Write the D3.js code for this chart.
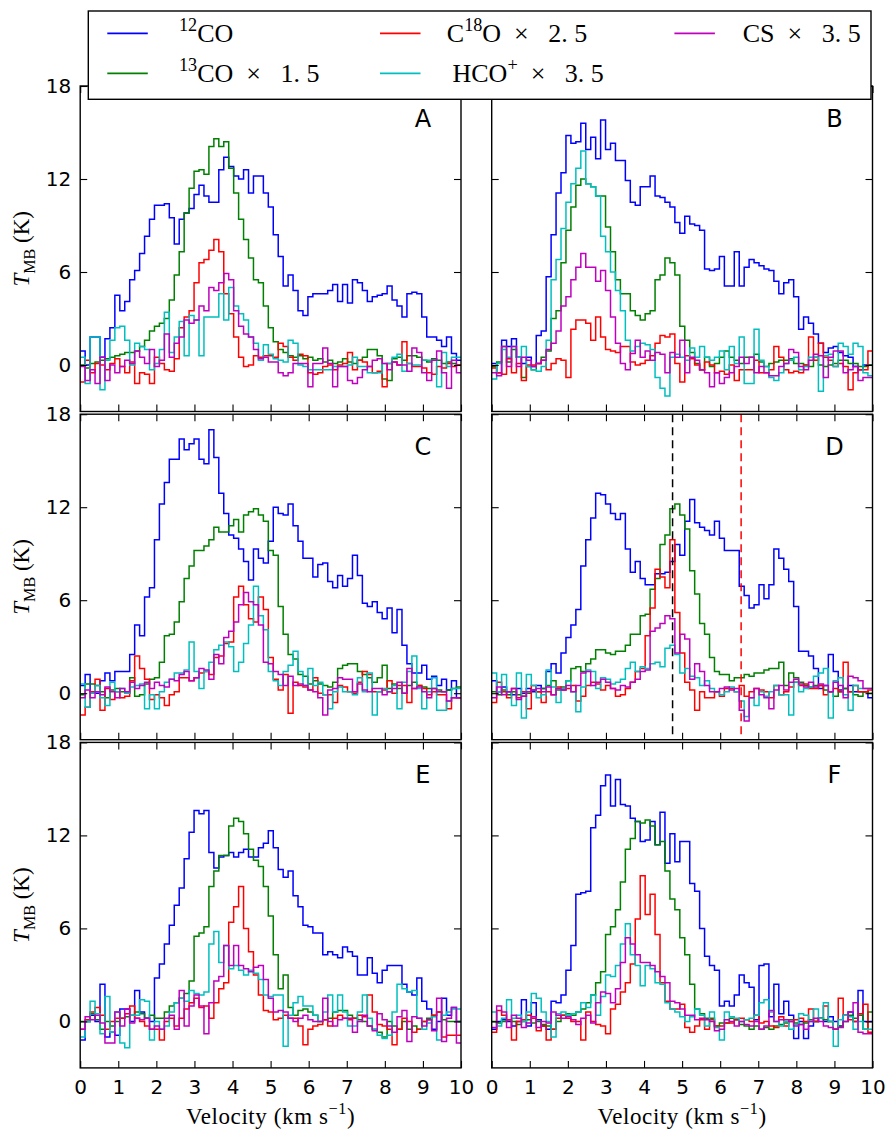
<!DOCTYPE html>
<html><head><meta charset="utf-8">
<script src="https://cdn.jsdelivr.net/npm/d3@7"></script>
<style>body{margin:0;background:#fff}svg{display:block}text{white-space:pre}</style>
</head><body>
<svg id="chart" width="888" height="1133"></svg>
<script>
// ---------------- data ----------------
const channelWidth = 0.13;           // km/s per channel
const velocityTicks = [0,1,2,3,4,5,6,7,8,9,10];
const temperatureTicks = [0,6,12,18];
const panelLabels = ["A","B","C","D","E","F"];
const seriesKeys = ["12CO","13CO","C18O","HCO","CS"];
const D_markerVelocities = [4.75, 6.55];

const A_12CO = [0.9,0,1.8,1.8,0.5,1.7,2.4,4.5,3.5,4.1, 5.5,6.1,7.2,8.3,9.4,10.3,10.3,10.4,9.5,7.8, 9.4,9.8,10.1,11.0,11.6,10.9,10.5,10.5,12.6,13.4, 12.8,12.2,12.0,12.6,11.1,12.2,12.2,11.1,10.2,8.4, 7.0,5.1,5.8,4.8,3.5,3.2,4.4,4.6,4.6,4.6, 4.8,5.2,4.1,5.2,4.0,5.5,5.3,4.8,4.1,4.4, 4.5,4.6,5.1,4.2,3.8,3.1,4.6,4.7,4.6,3.1, 1.8,1.8,1.6,1.2,1.8,0.75,0.3];
const A_13CO = [0.0,-0.2,0.1,0.2,0.3,0.4,0.5,0.6,0.7,0.8, 0.8,0.9,1.2,1.6,2.2,2.5,2.7,3.0,4.2,5.8, 7.3,9.8,11.4,12.5,12.6,12.3,14.1,14.6,14.1,14.4, 12.7,11.1,9.4,8.1,6.9,5.5,5.3,3.8,2.4,1.5, 1.0,0.8,0.6,0.5,0.6,0.4,0.5,0.3,0.4,0.2, 0.3,0.1,0.2,0.4,0.2,0.1,0.3,0.5,1.0,1.0, 0.6,-0.9,-1.0,0.4,0.5,0.3,0.6,0.6,0.5,0.3, 0.2,0.4,0.3,0.1,0.2,0.1,0.0];
const A_C18O = [-1.1,0.3,-0.5,0.1,0.0,-0.3,0.1,0.4,-0.1,-0.5, 0.2,-1.2,-0.5,-0.6,-1.2,0.5,0.1,-0.3,-0.4,0.4, 2.4,3.1,3.5,5.3,6.6,6.8,7.4,8.1,7.3,4.6, 3.3,1.8,0.5,-0.1,0.0,0.6,0.5,0.6,0.6,0.5, 1.4,1.2,0.5,0.3,0.7,0.6,-0.5,-0.6,-0.5,-0.1, 0.0,-0.3,0.0,0.1,0.8,-0.3,0.3,0.2,-0.1,-0.5, -0.4,-1.4,0.1,0.2,0.0,1.5,0.1,-0.1,-0.1,-0.2, -0.5,-0.6,-0.1,-0.2,0.1,-0.1,0.0];
const A_HCO = [0.5,-1.2,1.8,1.8,-1.6,0.3,1.6,2.4,2.5,1.6, 0.0,1.4,1.2,1.0,-0.3,0.1,1.0,3.4,0.8,1.8, 2.8,0.6,3.2,2.9,0.6,3.1,3.1,3.1,4.6,2.9, 5.0,3.8,3.3,2.9,1.8,1.4,0.3,1.3,0.7,0.4, 0.3,0.2,1.6,1.4,0.0,-0.1,-0.3,-0.3,-0.3,-0.3, -0.3,-0.1,-0.1,-0.1,0.0,0.5,-0.1,-0.1,-0.5,-0.5, -0.5,0.1,0.1,0.5,0.7,-0.4,0.1,0.0,0.0,0.3, 0.3,0.3,-1.4,0.8,-0.1,0.5,0.5];
const A_CS = [-0.1,-1.0,-0.3,-1.2,0.5,-1.0,0.0,-0.5,-0.1,0.3, 0.1,0.9,0.5,0.1,1.0,-0.1,0.3,2.0,0.5,1.4, 1.8,2.9,2.7,2.9,3.8,3.5,5.0,4.8,5.3,5.9, 5.5,3.5,2.5,2.0,1.8,1.0,0.4,0.5,0.2,0.2, -0.5,-0.7,-0.5,0.1,0.1,0.1,-1.4,0.1,0.1,1.1, 0.1,-1.4,-0.1,-0.1,-1.0,-1.2,-0.8,-0.3,-0.1,0.3, 0.4,0.1,-0.3,0.2,0.0,0.0,-0.4,1.1,0.8,-0.5, -1.0,0.3,0.9,-0.5,-1.5,0.3,-0.5];

const B_12CO = [0.1,-0.5,1.6,1.2,1.7,0.5,0.1,0.5,-0.1,1.9, 2.2,5.7,8.4,11.1,12.4,14.8,14.3,14.4,15.6,13.9, 14.7,13.3,15.8,13.9,14.3,13.2,13.2,11.9,10.5,10.3, 11.5,11.5,12.2,10.9,10.8,10.5,10.2,9.2,8.5,9.6, 9.1,9.0,8.7,6.2,6.1,6.2,7.0,5.1,5.1,7.3, 5.1,6.3,6.8,6.6,6.4,6.2,6.1,5.4,4.6,5.3, 5.5,4.4,2.3,3.1,2.7,2.0,1.4,0.8,1.1,1.2, 0.8,0.6,0.5,-0.1,-0.3,0.0,0.0];
const B_13CO = [-0.1,0.2,1.2,0.2,1.0,0.5,-0.8,-0.1,-0.3,0.1, 0.5,0.9,3.0,3.5,6.6,8.7,10.2,11.6,12.0,11.7, 11.5,10.9,10.9,8.9,7.3,5.5,4.6,4.6,3.5,3.2, 2.9,3.3,3.5,5.5,5.8,6.9,6.6,5.8,2.5,1.6, 0.8,0.1,-0.3,0.5,-0.1,0.1,0.5,0.9,0.5,0.3, 0.1,0.5,0.5,0.7,0.2,-0.1,0.1,0.2,0.3,0.3, 0.4,0.1,0.1,0.0,-0.1,0.5,0.0,-0.1,0.0,0.1, 0.3,0.3,0.1,0.1,-0.1,-0.1,0.0];
const B_C18O = [-0.2,-0.5,-0.6,0.4,-0.5,0.1,-1.0,0.0,0.0,0.1, 0.3,-0.3,0.1,0.4,0.3,-0.8,2.3,2.9,2.9,2.7, 1.6,3.1,1.8,1.0,0.9,0.8,1.2,1.2,0.2,0.0, 0.1,0.3,0.6,1.4,1.9,1.8,2.0,0.1,-1.1,0.6, 0.4,0.0,-0.3,0.2,0.0,-0.5,-0.4,-0.6,0.0,-1.0, -0.3,-0.3,-0.3,0.3,-0.5,-0.5,-0.3,1.2,0.5,-0.3, -0.5,-0.4,-0.5,0.0,1.8,0.3,1.4,0.5,0.3,-0.1, 0.1,-0.1,-1.6,-0.5,-0.3,-0.3,0.9];
const B_HCO = [-0.9,0.1,1.0,0.5,1.2,0.5,1.2,-0.1,-0.3,-0.4, -0.1,1.6,5.5,6.8,8.8,10.5,11.7,12.7,13.8,11.7, 11.5,10.9,8.3,7.3,6.0,4.8,3.5,1.6,0.9,1.2, 1.4,1.3,1.0,-0.8,-1.5,-2.0,0.5,0.7,0.5,0.3, 1.1,0.5,1.2,0.5,0.3,0.5,0.9,-0.3,1.2,0.1, 1.8,-1.2,-1.2,2.3,0.3,-0.1,-0.8,-1.0,-0.5,0.1, 0.3,0.5,-0.3,-0.1,0.5,0.5,-1.7,0.6,0.7,-0.1, 1.4,1.2,0.7,1.4,1.2,-0.5,-0.7];
const B_CS = [-0.5,-0.7,1.2,-0.1,1.2,-0.1,0.5,0.3,-0.1,0.1, 0.3,1.0,1.4,2.2,3.8,4.4,5.5,6.3,7.2,6.3, 6.3,5.4,6.1,4.8,3.1,1.4,0.1,-0.3,0.75,1.6, 0.5,0.9,0.3,0.8,0.7,-0.5,0.8,0.5,1.6,-0.5, 0.5,0.3,-0.3,-0.5,-1.4,-0.5,-1.2,-0.8,-0.5,-0.1, 0.5,0.1,0.5,-0.5,-0.1,-0.5,-0.7,-0.7,-0.1,0.1, 1.0,0.8,-0.1,-0.3,0.3,0.7,0.6,-0.8,0.5,0.9, 0.9,-0.5,-0.3,-0.1,-1.0,-0.8,-0.8];

const C_12CO = [0.5,1.2,0.1,0.0,0.8,1.3,0.8,1.4,1.4,1.4, 2.5,4.4,3.7,6.2,6.8,9.9,12.2,13.6,15.1,15.1, 16.4,15.7,16.1,16.4,15.1,14.8,17.0,15.2,12.9,11.6, 10.2,10.0,9.3,8.5,7.3,9.3,8.7,8.4,9.8,12.0, 11.6,11.5,12.2,10.8,9.8,8.7,8.7,7.5,8.3,8.4, 7.2,6.8,7.6,6.9,7.4,8.9,7.6,5.8,5.6,5.9, 5.2,4.8,5.5,3.9,5.4,3.1,1.9,1.3,1.3,1.8, 0.9,1.1,0.5,0.9,0.2,0.8,-0.3];
const C_13CO = [-0.1,0.6,0.6,0.5,0.1,-0.3,0.2,0.3,0.1,0.0, 1.0,-0.2,-0.1,0.6,0.9,1.0,2.0,3.7,3.8,4.6, 5.9,7.4,8.2,9.2,9.2,9.5,9.9,10.7,10.4,10.4, 10.8,11.2,10.4,11.5,11.7,11.9,11.5,11.1,9.2,8.9, 5.6,3.8,2.5,2.2,1.2,1.1,0.6,0.8,0.6,0.5, 0.4,0.7,1.6,1.8,1.9,1.9,1.4,1.2,1.0,0.7, 1.0,1.8,0.3,0.6,0.3,0.0,0.5,0.7,0.5,0.4, 0.3,0.3,0.2,0.1,0.2,0.3,0.4];
const C_C18O = [-1.4,-0.9,0.1,0.9,-1.1,0.3,-0.4,0.1,-0.3,-0.2, 0.8,2.4,1.6,0.9,-0.4,-0.1,-0.3,-0.8,-0.1,0.1, 1.0,1.0,0.8,1.0,1.3,1.4,1.2,2.3,2.4,3.2, 3.3,6.2,6.9,5.7,4.8,4.6,6.2,5.4,2.3,0.9, 0.2,1.2,-1.3,0.7,0.5,0.4,0.2,1.0,0.0,-0.1, -0.1,-0.6,0.5,0.4,0.1,0.0,0.7,1.4,1.2,0.1, 0.1,0.2,0.8,0.0,0.5,0.5,-0.6,0.3,0.5,0.3, -0.1,0.1,-0.1,-0.1,-1.0,-0.3,-0.3];
const C_HCO = [0.6,-0.9,0.0,0.5,-0.3,-0.8,0.7,0.1,0.3,0.0, 0.4,0.5,0.6,-1.0,-0.1,-1.0,0.1,0.7,0.9,1.3, 1.3,1.5,3.3,1.4,0.3,1.4,2.0,2.8,3.1,3.3, 3.0,1.4,2.0,3.2,4.4,6.9,5.0,4.1,1.4,0.8, 0.5,1.4,1.8,2.7,1.4,0.5,1.6,0.5,0.7,-0.1, -1.0,0.1,0.4,0.1,0.1,-0.1,1.0,0.1,1.3,-1.4, 0.1,0.3,0.1,0.5,-1.0,0.7,1.4,2.4,0.3,-1.0, 0.1,1.0,-1.1,-1.1,-0.5,0.3,0.3];
const C_CS = [-0.3,0.2,-0.3,0.1,-0.1,0.4,0.1,-0.3,0.3,0.1, 0.7,0.3,0.5,0.7,0.3,0.7,0.5,0.4,0.9,0.8, 1.2,1.4,0.8,1.0,1.6,1.5,0.9,2.5,1.9,3.6, 4.0,4.6,5.7,6.5,5.9,5.7,4.4,2.0,1.9,1.4, 1.2,0.5,1.1,0.5,0.6,0.5,0.2,0.1,-0.3,-1.4, 0.2,0.3,1.0,0.9,0.9,0.1,0.6,0.2,0.1,0.3, 0.3,-0.1,0.1,0.3,0.7,0.0,1.6,0.3,0.4,0.1, -0.3,0.3,0.1,0.1,-0.5,-0.3,-0.3];

const D_12CO = [0.8,0.1,0.4,0.1,-0.1,0.3,0.0,0.3,0.1,0.5, 0.3,1.4,1.9,1.3,2.6,3.6,4.4,5.4,8.2,9.9, 11.3,12.9,12.8,12.2,11.6,11.2,11.6,9.3,7.8,8.5, 7.4,7.0,7.0,7.7,7.7,7.8,8.5,9.6,8.9,11.1, 12.5,11.0,10.7,10.5,10.2,11.1,10.0,9.2,9.2,9.2, 6.9,6.3,5.5,5.7,7.0,6.1,7.0,9.3,8.7,8.0, 7.2,5.6,2.7,2.7,2.4,1.6,0.3,0.5,2.5,1.4, 0.2,0.3,0.5,0.1,0.1,0.1,-0.3];
const D_13CO = [0.1,-0.1,0.2,-0.1,0.1,-0.1,-0.2,0.0,0.2,0.1, 0.3,0.5,0.8,0.2,0.4,0.8,1.6,1.7,1.4,1.9, 2.2,2.8,2.8,2.6,2.5,2.7,2.7,3.1,3.8,3.8, 5.0,5.1,6.7,7.4,9.6,10.2,11.9,12.2,11.5,10.6, 7.9,6.4,4.5,3.8,2.3,1.4,1.2,1.2,0.8,1.0, 1.0,1.2,1.1,1.3,1.3,1.5,1.6,1.6,2.0,0.5, 1.3,1.0,0.7,0.5,0.4,0.5,0.5,0.2,0.1,-0.2, 0.1,0.3,0.1,-0.1,-0.2,0.1,0.0];
const D_C18O = [-0.6,0.7,0.1,-0.3,0.3,-0.3,0.1,-1.0,0.5,0.1, -0.6,0.1,-0.1,0.4,0.2,0.3,0.5,-0.5,-0.2,0.5, 0.7,0.6,0.2,0.5,0.3,-0.2,-0.1,0.3,0.7,1.4, 1.6,3.7,5.5,8.0,7.5,6.8,9.9,5.2,2.6,0.7, 0.2,-1.1,0.1,-0.3,-0.3,0.1,-0.2,0.3,0.3,0.1, 0.5,-0.2,0.1,0.3,0.2,0.1,-0.3,0.5,-0.1,0.1, 0.4,0.7,0.5,0.6,0.3,0.3,0.5,-0.1,0.1,0.3, 0.1,2.0,0.1,0.5,0.1,0.1,0.2];
const D_HCO = [1.3,0.1,1.2,0.1,-0.8,1.3,-1.6,1.2,0.5,-0.3, -0.1,1.5,0.4,-0.6,0.3,0.8,0.1,-1.2,0.4,1.5, 1.4,0.3,1.0,0.9,0.6,0.7,0.9,1.6,2.0,1.4, 1.7,1.6,1.9,2.0,1.7,2.9,3.1,2.5,1.3,1.6, 1.1,1.0,0.5,0.8,0.3,0.1,-0.1,0.1,0.4,0.1, -0.5,-1.5,-0.3,-0.8,0.1,-0.2,0.1,0.5,-0.1,-0.1, -1.4,0.7,0.1,0.3,0.4,1.1,1.3,1.6,-1.6,0.8, 1.0,-0.1,-1.1,0.5,0.3,0.3,0.3];
const D_CS = [-0.3,0.4,-0.1,0.1,0.3,-0.4,-0.2,0.1,0.2,0.3, 0.1,0.4,-0.1,0.3,0.2,0.5,0.1,0.5,1.3,1.4, 0.5,0.7,0.9,0.7,0.3,0.2,0.5,0.4,0.7,0.9, 1.4,1.5,4.0,4.2,4.5,5.0,4.8,2.6,3.8,3.5, 0.9,1.9,1.4,0.5,0.1,0.1,0.3,0.4,0.2,0.3, -1.1,-1.8,-0.3,0.3,-0.1,-0.3,-1.0,0.2,0.5,0.2, 0.7,0.9,0.6,0.4,0.7,0.4,0.6,0.5,0.1,0.7, 0.5,-0.3,1.1,1.0,0.8,0.3,0.3];

const E_12CO = [-1.2,0.0,0.4,0.0,2.4,-1.0,-0.7,-0.9,0.8,0.8, 0.0,2.0,0.6,0.2,0.0,2.8,3.7,5.0,6.2,7.5, 8.6,10.5,12.2,13.6,13.4,13.6,10.9,9.9,10.6,10.7, 10.9,10.6,10.9,11.1,10.6,10.6,11.2,11.5,12.3,11.2, 9.8,9.3,9.7,8.1,7.4,6.2,6.1,5.7,5.7,4.3, 4.5,4.3,4.1,4.8,4.5,4.2,3.0,3.0,4.1,3.1, 2.5,3.3,3.6,3.6,3.6,2.4,1.9,1.7,2.8,1.3, 0.8,-0.5,0.0,1.5,0.4,0.9,0.0];
const E_13CO = [0.0,0.0,0.5,0.1,-0.5,0.0,-0.3,0.0,0.2,0.3, 0.4,0.6,0.5,0.2,0.4,0.2,0.2,0.6,1.0,1.2, 1.5,1.8,2.6,5.5,5.7,6.1,8.7,9.7,10.7,10.7, 12.6,13.1,12.9,12.1,11.1,10.4,10.0,8.7,6.8,4.3, 2.1,3.0,0.9,0.4,0.7,0.8,0.6,0.4,0.0,0.1, 0.2,0.6,0.7,0.7,0.4,0.2,0.1,0.0,-0.3,-0.5, -0.7,-1.0,0.0,-0.3,-0.5,0.0,-0.5,-0.3,-0.5,0.0, 0.2,0.4,0.6,0.1,0.0,0.0,0.0];
const E_C18O = [-0.5,0.1,0.6,0.9,0.4,-0.5,0.0,0.2,0.2,0.5, 1.0,0.2,0.0,-0.3,-0.5,-0.5,-1.2,0.0,0.2,-0.3, 0.2,0.8,1.2,1.5,0.9,1.0,0.2,1.2,2.1,2.5, 6.4,7.4,8.7,6.0,4.5,3.0,1.7,0.7,0.6,0.1, 0.2,0.4,0.2,0.2,-0.3,-1.5,-0.5,-0.3,-0.2,0.1, -0.3,0.2,0.4,0.2,0.1,0.2,0.4,0.3,1.7,0.6, -0.2,-0.3,-0.5,-1.5,-0.5,0.2,0.0,-0.7,-0.5,0.0, 0.1,0.4,0.6,-1.0,-0.9,-0.9,-0.9];
const E_HCO = [-1.0,0.0,1.3,0.5,-0.8,1.6,-0.7,0.6,-1.4,-1.7, 0.4,0.4,1.4,1.3,-1.2,0.0,-0.5,-0.3,0.6,1.2, 1.5,1.3,2.0,1.8,1.7,1.9,5.0,5.8,3.8,4.9, 3.4,3.6,3.3,3.0,3.3,3.1,2.7,1.7,1.6,1.7, 1.7,-1.6,0.4,1.2,1.6,1.0,1.0,0.4,0.0,0.6, 1.7,0.6,1.7,0.6,-0.3,-0.3,0.6,1.7,0.2,-0.5, -0.9,-1.1,-0.9,0.6,2.4,2.1,1.9,2.0,0.2,-0.5, -0.1,0.3,-1.2,0.4,0.6,0.8,0.8];
const E_CS = [-0.5,0.3,0.1,0.4,-0.1,-1.4,-1.4,0.6,-0.3,0.8, -0.1,0.2,0.1,0.2,-0.5,-0.3,-0.5,0.2,0.4,-0.5, 2.0,-0.3,1.0,1.7,1.0,-0.8,1.2,2.6,2.9,4.9, 3.6,4.9,3.6,3.4,3.2,3.5,3.6,2.7,1.5,0.6, 0.7,0.6,0.2,0.0,0.2,0.4,0.1,0.0,0.0,1.5, 0.0,-0.3,0.1,0.2,0.2,-0.7,0.0,0.4,-0.3,-0.6, 0.5,0.1,-0.3,-0.7,0.3,0.7,-1.3,0.3,0.2,-0.3, 0.1,-0.6,1.5,-1.3,0.2,0.9,-1.4];

const F_12CO = [-0.5,0.0,0.1,0.0,-0.3,0.0,1.4,-0.3,1.2,0.1, -0.3,-0.5,1.3,1.2,1.7,3.3,4.9,8.2,8.3,8.4, 12.5,13.3,15.2,15.9,13.9,15.6,14.0,13.9,13.1,12.9, 11.6,11.7,12.9,11.4,13.5,10.2,12.1,10.3,11.6,11.6, 8.9,8.4,6.0,4.2,3.6,3.3,1.0,1.3,1.0,1.7, 3.0,2.5,2.2,0.1,3.6,3.7,0.3,2.4,0.5,1.3, 0.4,-1.1,0.0,-1.1,-0.3,0.0,0.2,0.0,0.3,0.0, -0.3,0.4,0.6,0.0,2.0,0.0,0.0];
const F_13CO = [0.0,-0.1,0.0,0.1,0.0,-0.2,0.0,0.1,-0.1,0.0, -0.2,-0.3,-0.5,0.0,0.4,0.5,0.4,0.6,0.8,1.2, 1.7,2.5,3.2,5.6,6.1,7.2,9.0,11.1,11.8,12.9, 12.8,13.0,12.6,11.4,11.6,9.7,7.9,7.2,5.4,4.3, 2.4,0.8,0.5,0.2,0.2,-0.3,-0.1,-0.1,0.2,0.1, -0.2,-0.3,-0.5,-0.3,-0.5,-0.4,-0.5,-0.3,-0.2,-0.1, 0.1,-0.1,-0.2,-0.1,0.1,0.0,0.2,0.1,0.0,-0.5, -0.3,0.0,0.4,0.2,0.4,-0.5,0.6];
const F_C18O = [-0.7,0.7,0.4,0.1,-1.2,0.0,0.1,0.4,0.2,-0.6, -0.3,-1.2,-0.5,0.2,0.4,0.2,0.0,0.0,-1.2,0.6, 0.0,-0.2,-0.3,-0.8,0.8,1.1,1.9,2.5,3.7,6.6, 9.4,6.9,8.2,5.6,2.5,1.3,0.8,0.8,1.1,-0.4, -0.7,-0.3,0.1,-0.5,0.1,-0.3,-0.3,-0.1,-0.1,0.1, 0.2,0.1,0.0,0.4,-0.1,0.0,-0.3,-0.4,0.3,-0.3, 0.0,0.1,0.2,0.0,0.8,0.0,0.2,1.0,0.0,-0.5, 1.5,0.4,0.1,0.0,0.5,1.1,-0.7];
const F_HCO = [0.6,-0.3,0.2,1.4,0.2,0.4,0.0,0.6,1.8,1.5, 0.6,0.0,-1.0,0.5,0.6,0.4,0.5,0.6,1.2,0.9, 1.7,0.4,1.6,3.0,2.9,3.6,5.0,6.3,4.3,3.6, 2.3,3.6,3.4,2.5,2.4,1.2,0.8,0.6,0.3,0.0, 0.3,0.8,0.4,-0.3,0.6,-0.4,-1.2,0.6,0.3,0.2, 0.0,0.1,0.2,0.4,1.2,1.4,0.6,0.0,-0.3,0.0, -0.5,-0.2,0.5,0.4,0.0,0.8,0.2,1.2,0.0,-1.6, 0.1,0.4,0.3,-0.5,0.0,-0.5,-0.5];
const F_CS = [-0.4,1.0,0.6,-0.4,0.4,0.2,-0.4,-0.1,0.3,-0.4, 0.0,-0.1,0.6,0.4,0.2,0.3,0.1,-0.2,0.2,0.4, -0.1,1.2,1.9,1.8,1.2,2.1,3.8,5.4,5.0,4.3, 3.8,3.8,3.6,3.2,2.9,2.5,1.3,1.2,0.8,0.4, 0.4,0.1,0.2,0.1,0.0,-0.6,-0.5,0.1,0.0,-0.3, 0.0,-0.2,-0.3,0.0,-0.5,-0.3,0.7,0.0,0.1,0.1, 0.0,-0.3,-0.2,-0.5,0.0,0.2,0.0,-0.3,-0.4,-0.5, -0.4,0.0,0.6,1.2,-0.7,-0.8,-0.8];

const spectra = {
  A: [A_12CO, A_13CO, A_C18O, A_HCO, A_CS],
  B: [B_12CO, B_13CO, B_C18O, B_HCO, B_CS],
  C: [C_12CO, C_13CO, C_C18O, C_HCO, C_CS],
  D: [D_12CO, D_13CO, D_C18O, D_HCO, D_CS],
  E: [E_12CO, E_13CO, E_C18O, E_HCO, E_CS],
  F: [F_12CO, F_13CO, F_C18O, F_HCO, F_CS]
};

// ---------------- styles / layout ----------------
const seriesColor = {"12CO":"#0000ff","13CO":"#008000","C18O":"#ff0000","HCO":"#00bfbf","CS":"#bf00bf"};
const colLeft = [80.2, 491.7], panelW = 380.8;
const rowTop = [86, 414.2, 742.4], panelH = 325.5;
const tickFont = "'DejaVu Sans', sans-serif";
const serifFont = "'Liberation Serif', 'DejaVu Serif', serif";

const svg = d3.select("#chart");
svg.append("rect").attr("width",888).attr("height",1133).attr("fill","#fff");

function rich(sel, parts, fs) {
  let shift = 0;
  parts.forEach(p => {
    let target = 0, size = fs;
    if (p.sup) { target = -0.42*fs; size = 0.7*fs; }
    if (p.sub) { target = 0.24*fs; size = 0.7*fs; }
    const ts = sel.append("tspan").text(p.t).attr("font-size", size).attr("dy", target - shift);
    if (p.it) ts.attr("font-style","italic");
    shift = target;
  });
}

const defs = svg.append("defs");

panelLabels.forEach((lab, k) => {
  const row = Math.floor(k/2), col = k % 2;
  const x0 = colLeft[col], y0 = rowTop[row];
  const x = d3.scaleLinear().domain([0,10]).range([x0, x0+panelW]);
  const y = d3.scaleLinear().domain([-3,18]).range([y0+panelH, y0]);

  defs.append("clipPath").attr("id","clip-"+lab)
    .append("rect").attr("x",x0).attr("y",y0).attr("width",panelW).attr("height",panelH);

  const g = svg.append("g");
  const plot = g.append("g").attr("clip-path","url(#clip-"+lab+")");

  const line = d3.line().x(d=>x(d[0])).y(d=>y(d[1])).curve(d3.curveStepAfter);
  spectra[lab].forEach((vals, si) => {
    const pts = vals.map((t,i)=>[i*channelWidth, t]);
    pts.push([vals.length*channelWidth, vals[vals.length-1]]);
    plot.append("path").datum(pts).attr("d", line)
      .attr("fill","none").attr("stroke", seriesColor[seriesKeys[si]])
      .attr("stroke-width",1.5).attr("stroke-linejoin","miter");
  });

  if (lab === "D") {
    const markColors = ["#000000","#ff0000"];
    D_markerVelocities.forEach((v,i) => {
      g.append("line").attr("x1",x(v)).attr("x2",x(v)).attr("y1",y0).attr("y2",y0+panelH)
        .attr("stroke",markColors[i]).attr("stroke-width",1.5).attr("stroke-dasharray","8,5");
    });
  }

  // axes (inward ticks)
  const styleAxis = a => {
    a.select(".domain").remove();
    a.selectAll(".tick line").attr("stroke","#000").attr("stroke-width",1.1);
    a.selectAll("text").attr("fill","#000").attr("font-family",tickFont).attr("font-size",20);
  };
  g.append("g").attr("transform",`translate(0,${y0+panelH})`)
    .call(d3.axisBottom(x).tickValues(velocityTicks).tickSize(-7).tickPadding(12)
      .tickFormat(row===2 ? d3.format("d") : ()=>"")).call(styleAxis);
  g.append("g").attr("transform",`translate(0,${y0})`)
    .call(d3.axisTop(x).tickValues(velocityTicks).tickSize(-7).tickFormat(()=>"")).call(styleAxis);
  g.append("g").attr("transform",`translate(${x0},0)`)
    .call(d3.axisLeft(y).tickValues(temperatureTicks).tickSize(-7).tickPadding(9)
      .tickFormat(col===0 ? d3.format("d") : ()=>"")).call(styleAxis);
  g.append("g").attr("transform",`translate(${x0+panelW},0)`)
    .call(d3.axisRight(y).tickValues(temperatureTicks).tickSize(-7).tickFormat(()=>"")).call(styleAxis);

  g.append("rect").attr("x",x0).attr("y",y0).attr("width",panelW).attr("height",panelH)
    .attr("fill","none").attr("stroke","#000").attr("stroke-width",1.4);

  g.append("text").attr("x", x0+0.9*panelW).attr("y", y0+0.1*panelH)
    .attr("text-anchor","middle").attr("dominant-baseline","central")
    .attr("font-family",tickFont).attr("font-size",24).attr("fill","#000").text(lab);

  if (col === 0) {
    const cy = y0 + panelH/2;
    const t = svg.append("text").attr("transform",`translate(29,${cy}) rotate(-90)`)
      .attr("text-anchor","middle").attr("font-family",serifFont).attr("fill","#000");
    rich(t, [{t:"T",it:true},{t:"MB",sub:true},{t:" (K)"}], 23);
  }
  if (row === 2) {
    const t = svg.append("text").attr("x", x0+panelW/2).attr("y",1124)
      .attr("text-anchor","middle").attr("font-family",serifFont).attr("fill","#000")
      .attr("letter-spacing",0.6);
    rich(t, [{t:"Velocity (km s"},{t:"\u22121",sup:true},{t:")"}], 23);
  }
});

// ---------------- legend ----------------
const legend = svg.append("g");
legend.append("rect").attr("x",88.3).attr("y",11).attr("width",782.7).attr("height",88.3)
  .attr("fill","#fff").attr("stroke","#000").attr("stroke-width",1.4);
const legendItems = [
  {key:"12CO", lx:107.3, tx:179, row:0, parts:[{t:"12",sup:true},{t:"CO"}]},
  {key:"13CO", lx:107.3, tx:179, row:1, parts:[{t:"13",sup:true},{t:"CO\u2002\u00d7\u2002 1. 5"}]},
  {key:"C18O", lx:380, tx:446.8, row:0, parts:[{t:"C"},{t:"18",sup:true},{t:"O\u2002\u00d7\u2002 2. 5"}]},
  {key:"HCO", lx:380, tx:452.5, row:1, parts:[{t:"HCO"},{t:"+",sup:true},{t:"\u2002\u00d7\u2002 3. 5"}]},
  {key:"CS", lx:674.4, tx:742.7, row:0, parts:[{t:"CS\u2002\u00d7\u2002 3. 5"}]}
];
legendItems.forEach(it => {
  const ly = it.row===0 ? 33.3 : 73.3;
  legend.append("line").attr("x1",it.lx).attr("x2",it.lx+40.5).attr("y1",ly).attr("y2",ly)
    .attr("stroke",seriesColor[it.key]).attr("stroke-width",1.8);
  const t = legend.append("text").attr("x",it.tx).attr("y",ly+9)
    .attr("font-family",serifFont).attr("fill","#000");
  rich(t, it.parts, 26);
});
</script>
</body></html>
